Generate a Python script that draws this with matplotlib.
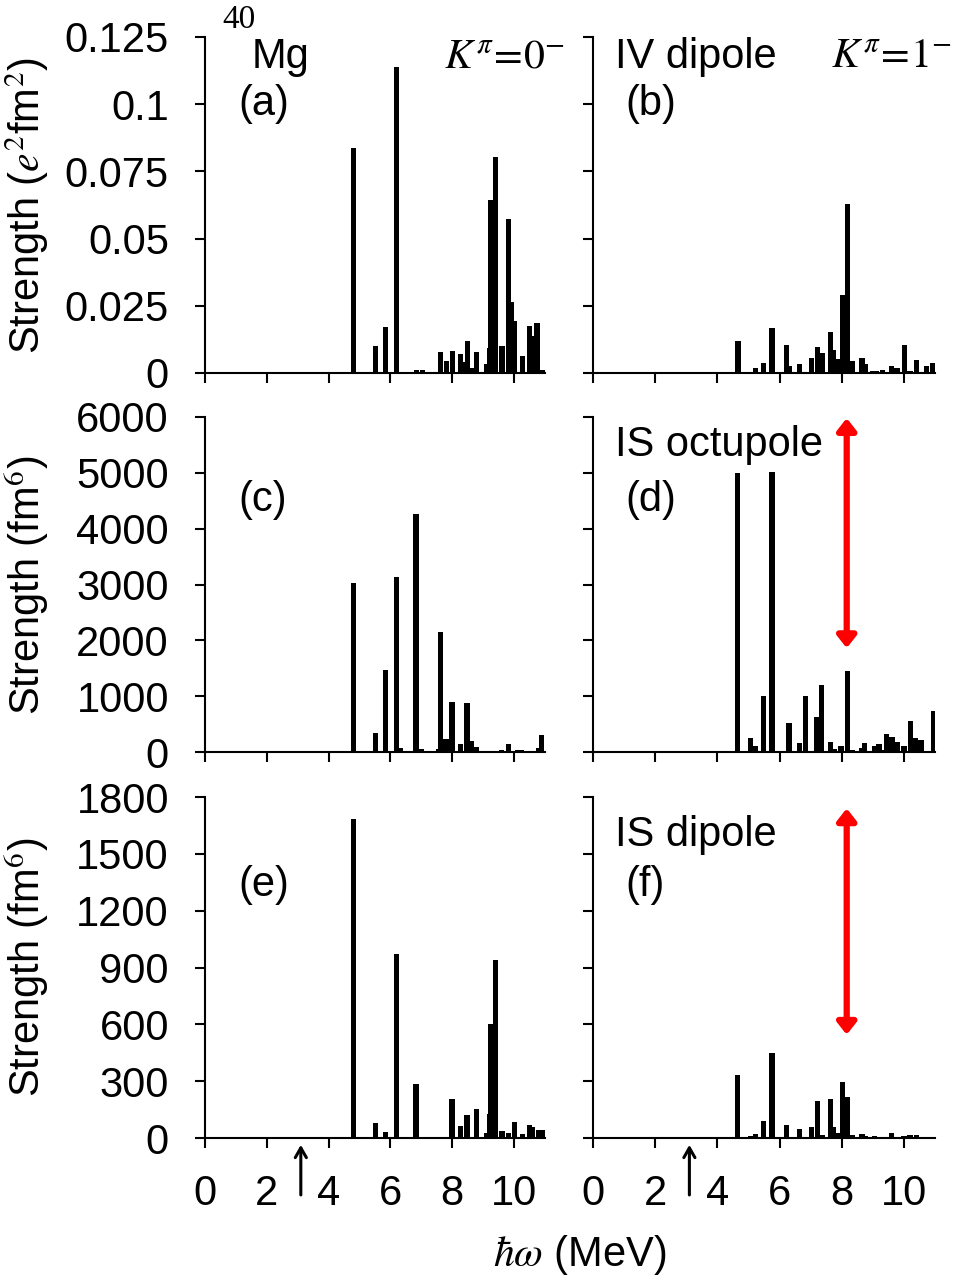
import matplotlib
matplotlib.use('Agg')
import matplotlib.pyplot as plt

plt.rcParams['font.family'] = ['Liberation Sans', 'DejaVu Sans']
plt.rcParams['mathtext.fontset'] = 'stix'

# ---- data (energy in MeV, strength) ----
e_a = [4.81, 5.51, 5.85, 6.19, 6.84, 7.03, 7.62, 7.81, 8.00, 8.27, 8.36, 8.49, 8.65, 8.78,
       9.11, 9.20, 9.25, 9.39, 9.61, 9.82, 9.92, 10.02, 10.26, 10.49, 10.60, 10.74, 10.90]
s_a = [0.0836, 0.0102, 0.0172, 0.1138, 0.0012, 0.0012, 0.0078, 0.0046, 0.0081, 0.0070, 0.0040,
       0.0118, 0.0020, 0.0078, 0.0033, 0.0094, 0.0644, 0.0802, 0.0100, 0.0573, 0.0263, 0.0195,
       0.0063, 0.0175, 0.0139, 0.0186, 0.0010]

e_b = [4.66, 5.22, 5.48, 5.76, 6.22, 6.30, 6.64, 6.80, 7.03, 7.23, 7.39, 7.64, 7.73, 7.87,
       8.02, 8.18, 8.35, 8.65, 8.75, 9.00, 9.10, 9.30, 9.61, 9.78, 10.03, 10.20, 10.41, 10.72, 10.94]
s_b = [0.0119, 0.0017, 0.0037, 0.0169, 0.0104, 0.0026, 0.0033, 0.0005, 0.0055, 0.0096, 0.0076,
       0.0151, 0.0084, 0.0053, 0.0289, 0.0629, 0.0045, 0.0055, 0.0033, 0.0007, 0.0007, 0.0010,
       0.0026, 0.0017, 0.0103, 0.0007, 0.0048, 0.0026, 0.0037]

e_c = [4.81, 5.51, 5.85, 6.19, 6.32, 6.83, 6.99, 7.57, 7.62, 7.80, 7.99, 8.27, 8.48, 8.62,
       8.78, 9.60, 9.82, 10.10, 10.25, 10.78, 10.89]
s_c = [3030, 335, 1470, 3130, 77, 4260, 60, 60, 2150, 240, 895, 150, 870, 190,
       90, 40, 137, 30, 30, 80, 304]

e_d = [4.65, 5.06, 5.22, 5.48, 5.76, 6.30, 6.64, 6.83, 7.20, 7.36, 7.63, 7.77, 7.98, 8.18,
       8.35, 8.65, 8.74, 9.06, 9.20, 9.30, 9.45, 9.62, 9.79, 10.00, 10.22, 10.37, 10.55, 10.95]
s_d = [4990, 250, 107, 1000, 5010, 520, 160, 1000, 630, 1200, 180, 50, 107, 1445,
       30, 70, 160, 107, 150, 40, 320, 263, 175, 107, 550, 256, 215, 740]

e_e = [4.81, 5.51, 5.85, 6.19, 6.83, 7.60, 7.99, 8.27, 8.48, 8.78, 9.12, 9.20, 9.25, 9.39,
       9.61, 9.82, 10.02, 10.26, 10.49, 10.60, 10.78, 10.90]
s_e = [1684, 77, 33, 970, 285, 5, 204, 63, 120, 151, 25, 127, 602, 938,
       37, 25, 86, 20, 67, 58, 40, 40]

e_f = [4.65, 5.06, 5.22, 5.48, 5.76, 6.22, 6.64, 7.03, 7.23, 7.39, 7.64, 7.73, 7.87, 8.02,
       8.18, 8.35, 8.65, 8.75, 9.05, 9.61, 10.00, 10.20, 10.40, 10.72]
s_f = [333, 10, 20, 91, 450, 67, 49, 56, 195, 15, 206, 58, 25, 297,
       215, 15, 20, 10, 10, 25, 12, 15, 15, 5]

yt_top = [0, 0.025, 0.05, 0.075, 0.1, 0.125]
yt_top_lbl = ['0', '0.025', '0.05', '0.075', '0.1', '0.125']
yt_mid = [0, 1000, 2000, 3000, 4000, 5000, 6000]
yt_bot = [0, 300, 600, 900, 1200, 1500, 1800]
xt = [0, 2, 4, 6, 8, 10]

threshold = 3.1          # black arrow position (MeV)
red_x = 8.16             # red double arrow position (MeV)
red_d = (1860, 5980)
red_f = (545, 1740)

FS = 30

fig = plt.figure(figsize=(9.61, 12.82), dpi=100)
W = 961.0
H = 1282.0


def make_ax(x0, x1, ytop, ybot):
    return fig.add_axes([x0 / W, 1 - ybot / H, (x1 - x0) / W, (ybot - ytop) / H])


rows = [(37, 373), (417, 752), (797, 1138)]
cols = [(205, 545), (593, 935)]
axes = [[make_ax(c[0], c[1], r[0], r[1]) for c in cols] for r in rows]

data = [[(e_a, s_a), (e_b, s_b)], [(e_c, s_c), (e_d, s_d)], [(e_e, s_e), (e_f, s_f)]]
yticks = [yt_top, yt_mid, yt_bot]

for i in range(3):
    for j in range(2):
        ax = axes[i][j]
        e, s = data[i][j]
        ax.bar(e, s, width=0.17, color='black', linewidth=0)
        ax.set_xlim(0, 11)
        ax.set_ylim(0, yticks[i][-1])
        ax.set_yticks(yticks[i])
        ax.set_xticks(xt)
        for side in ['top', 'right']:
            ax.spines[side].set_visible(False)
        for side in ['left', 'bottom']:
            ax.spines[side].set_linewidth(1.5)
        ax.tick_params(direction='out', length=7, width=1.5, labelsize=FS, pad=19)
        if i == 0 and j == 0:
            ax.set_yticklabels(yt_top_lbl)
        if j == 1:
            ax.set_yticklabels([])
        if i < 2:
            ax.set_xticklabels([])

# labels inside panels
ax = axes[0][0]
ax.text(0.05, 1.05, '40', transform=ax.transAxes, fontsize=24, family='Liberation Serif', va='center')
ax.text(0.138, 0.94, 'Mg', transform=ax.transAxes, fontsize=FS, va='center')
ax.text(0.097, 0.80, '(a)', transform=ax.transAxes, fontsize=FS, va='center')
ax.text(1.06, 0.94, r'$K^{\pi}\!=\!0^{-}$', transform=ax.transAxes, fontsize=FS, va='center', ha='right')

ax = axes[0][1]
ax.text(0.064, 0.94, 'IV dipole', transform=ax.transAxes, fontsize=FS, va='center')
ax.text(1.05, 0.94, r'$K^{\pi}\!=\!1^{-}$', transform=ax.transAxes, fontsize=FS, va='center', ha='right')
ax.text(0.094, 0.80, '(b)', transform=ax.transAxes, fontsize=FS, va='center')

axes[1][0].text(0.097, 0.752, '(c)', transform=axes[1][0].transAxes, fontsize=FS, va='center')
axes[1][1].text(0.064, 0.916, 'IS octupole', transform=axes[1][1].transAxes, fontsize=FS, va='center')
axes[1][1].text(0.094, 0.752, '(d)', transform=axes[1][1].transAxes, fontsize=FS, va='center')
axes[2][0].text(0.097, 0.742, '(e)', transform=axes[2][0].transAxes, fontsize=FS, va='center')
axes[2][1].text(0.064, 0.889, 'IS dipole', transform=axes[2][1].transAxes, fontsize=FS, va='center')
axes[2][1].text(0.094, 0.742, '(f)', transform=axes[2][1].transAxes, fontsize=FS, va='center')

# red double arrows
for ax, (lo, hi) in [(axes[1][1], red_d), (axes[2][1], red_f)]:
    ax.annotate('', xy=(red_x, hi), xytext=(red_x, lo),
                arrowprops=dict(arrowstyle='<|-|>,head_length=0.7,head_width=0.55',
                                color='red', lw=4.5, shrinkA=0, shrinkB=0))

# threshold arrows below the bottom axes
for ax in axes[2]:
    ax.annotate('', xy=(threshold, -0.02), xycoords=('data', 'axes fraction'),
                xytext=(threshold, -0.167), textcoords=('data', 'axes fraction'),
                arrowprops=dict(arrowstyle='->,head_length=0.7,head_width=0.4',
                                color='black', lw=2.2, shrinkA=0, shrinkB=0),
                annotation_clip=False)

# axis titles
fig.text(27 / W, 1 - 205 / H, r'Strength ($e^2$fm$^2$)', rotation=90, fontsize=FS, ha='center', va='center')
fig.text(27 / W, 1 - 585 / H, r'Strength (fm$^6$)', rotation=90, fontsize=FS, ha='center', va='center')
fig.text(27 / W, 1 - 967 / H, r'Strength (fm$^6$)', rotation=90, fontsize=FS, ha='center', va='center')
fig.text(580 / W, 1 - 1255 / H, r'$\hbar\omega$ (MeV)', fontsize=FS, ha='center', va='center')

fig.savefig('out.png', dpi=100)
